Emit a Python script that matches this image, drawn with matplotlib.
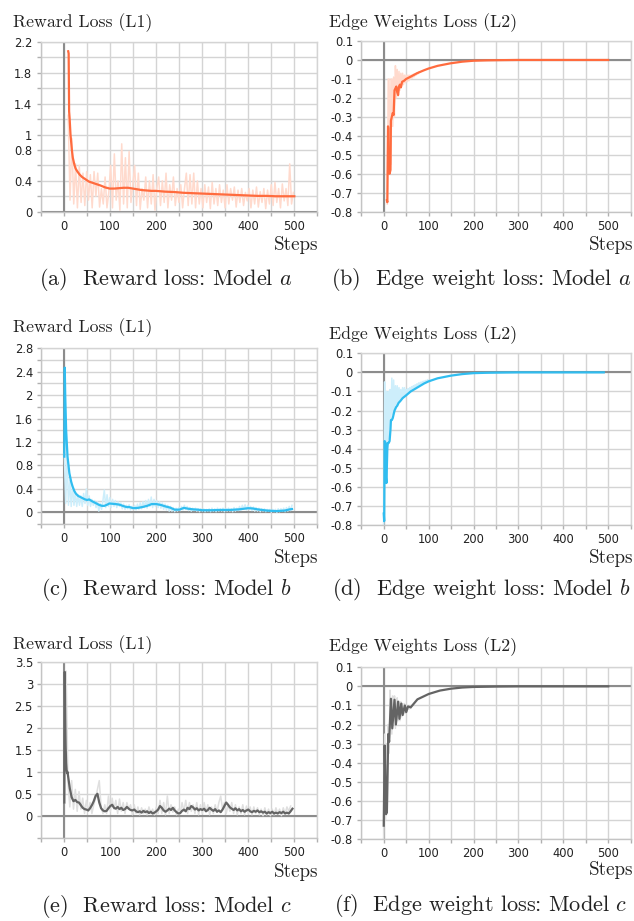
import numpy as np
import matplotlib
matplotlib.use("Agg")
import matplotlib.pyplot as plt

plt.rcParams["axes.unicode_minus"] = False
plt.rcParams["mathtext.fontset"] = "cm"

# ---------------- datos ----------------
# (a) reward loss, modelo a
a_steps = [10, 11, 12, 13, 15, 18, 20, 23, 26, 30, 35, 40, 45, 50, 55, 60, 70, 80, 90,
           100, 110, 120, 130, 140, 150, 160, 170, 180, 190, 200, 220, 240, 260, 280,
           300, 320, 340, 360, 380, 400, 420, 440, 460, 480, 500]
a_smooth = [2.08, 2.05, 1.30, 1.22, 1.00, 0.80, 0.70, 0.62, 0.56, 0.52, 0.48, 0.45, 0.43,
            0.41, 0.39, 0.38, 0.36, 0.34, 0.315, 0.30, 0.30, 0.305, 0.31, 0.31, 0.30, 0.29,
            0.28, 0.275, 0.27, 0.27, 0.26, 0.255, 0.245, 0.24, 0.235, 0.23, 0.225, 0.22,
            0.215, 0.21, 0.205, 0.205, 0.20, 0.20, 0.20]
a_raw = [1.25, 0.15, 0.95, 0.10, 0.62, 0.05, 0.60, 0.12, 0.50, 0.08, 0.52, 0.15, 0.48, 0.05,
         0.52, 0.20, 0.50, 0.06, 0.30, 0.10, 0.45, 0.05, 0.25, 0.60, 0.05, 0.75, 0.15, 0.40,
         0.02, 0.88, 0.10, 0.70, 0.05, 0.78, 0.12, 0.35, 0.60, 0.08, 0.50, 0.03, 0.30, 0.15,
         0.45, 0.05, 0.40, 0.10, 0.48, 0.02, 0.30, 0.45, 0.08, 0.40, 0.12, 0.50, 0.05, 0.35,
         0.15, 0.45, 0.08, 0.30, 0.12, 0.35, 0.05, 0.30, 0.50, 0.08, 0.48, 0.10, 0.50, 0.05,
         0.40, 0.10, 0.30, 0.05, 0.35, 0.12, 0.32, 0.04, 0.38, 0.10, 0.30, 0.08, 0.35, 0.12,
         0.28, 0.05, 0.35, 0.10, 0.30, 0.15, 0.32, 0.06, 0.28, 0.12, 0.30, 0.08, 0.25, 0.14,
         0.30, 0.05, 0.28, 0.10, 0.32, 0.06, 0.26, 0.12, 0.30, 0.04, 0.28, 0.10, 0.35, 0.08,
         0.38, 0.12, 0.30, 0.05, 0.36, 0.14, 0.30, 0.08, 0.62, 0.10, 0.25]

# (b) edge weights loss, modelo a
b_steps = [7, 8, 9.5, 10, 11, 13, 15, 16, 18, 20, 22, 24, 26, 28, 30, 32, 34, 36, 38, 41,
           45, 50, 60, 74, 90, 100, 120, 148, 175, 200, 230, 260, 300, 400, 500]
b_smooth = [-0.74, -0.75, -0.35, -0.36, -0.59, -0.60, -0.58, -0.32, -0.30, -0.28, -0.29,
            -0.16, -0.15, -0.14, -0.17, -0.185, -0.14, -0.13, -0.145, -0.115, -0.11, -0.10,
            -0.088, -0.07, -0.054, -0.045, -0.031, -0.018, -0.009, -0.004, -0.002, -0.001,
            0.0, 0.0, 0.0]
b_raw = [-0.76, -0.10, -0.60, -0.10, -0.55, -0.10, -0.35, -0.09, -0.30, -0.03, -0.20, -0.05,
         -0.19, -0.06, -0.16, -0.07, -0.14, -0.07, -0.13, -0.08, -0.12, -0.08, -0.115, -0.08,
         -0.11, -0.08, -0.10, -0.08, -0.095, -0.075, -0.088, -0.072, -0.08, -0.068, -0.074,
         -0.064]

# (c) reward loss, modelo b
c_steps = [0, 1, 2, 4, 7, 11, 15, 18, 22, 25, 30, 35, 40, 45, 50, 54, 60, 65, 70, 76,
           82, 87, 92, 98, 105, 112, 120, 127, 135, 141, 150, 160, 170, 180, 190, 200, 210,
           220, 230, 240, 250, 260, 270, 280, 290, 300, 320, 340, 360, 370, 380, 390, 400,
           410, 420, 430, 440, 450, 460, 470, 480, 490, 495]
c_smooth = [0.95, 2.47, 2.0, 1.40, 0.95, 0.67, 0.52, 0.44, 0.36, 0.32, 0.28, 0.26, 0.24,
            0.22, 0.21, 0.22, 0.19, 0.17, 0.15, 0.125, 0.11, 0.11, 0.125, 0.15, 0.145, 0.14,
            0.13, 0.11, 0.09, 0.09, 0.07, 0.075, 0.09, 0.11, 0.14, 0.14, 0.125, 0.10, 0.08,
            0.045, 0.045, 0.075, 0.06, 0.05, 0.045, 0.035, 0.035, 0.04, 0.04, 0.045, 0.05,
            0.06, 0.07, 0.065, 0.05, 0.04, 0.03, 0.025, 0.02, 0.025, 0.03, 0.05, 0.055]
c_raw = [1.00, 0.15, 1.00, 0.12, 0.55, 0.10, 0.45, 0.12, 0.35, 0.10, 0.30, 0.12, 0.28, 0.10,
         0.32, 0.15, 0.40, 0.12, 0.28, 0.10, 0.22, 0.12, 0.20, 0.08, 0.18, 0.02, 0.15, 0.05,
         0.20, 0.38, 0.08, 0.30, 0.10, 0.25, 0.08, 0.22, 0.10, 0.20, 0.08, 0.18, 0.10, 0.16,
         0.06, 0.14, 0.05, 0.12, 0.06, 0.13, 0.04, 0.10, 0.05, 0.12, 0.04, 0.14, 0.05, 0.16,
         0.06, 0.18, 0.08, 0.20, 0.07, 0.22, 0.10, 0.26, 0.08, 0.22, 0.10, 0.20, 0.08, 0.18,
         0.07, 0.16, 0.05, 0.14, 0.04, 0.12, 0.02, 0.10, 0.02, 0.08, 0.01, 0.07, 0.02, 0.08,
         0.03, 0.10, 0.04, 0.12, 0.05, 0.10, 0.03, 0.08, 0.02, 0.07, 0.03, 0.07, 0.02, 0.06,
         0.01, 0.06, 0.02, 0.06, 0.01, 0.05, 0.02, 0.06, 0.01, 0.07, 0.02, 0.06, 0.01, 0.07,
         0.02, 0.06, 0.02, 0.07, 0.01, 0.06, 0.02, 0.07, 0.02, 0.06, 0.01, 0.08, 0.02, 0.07,
         0.03, 0.10, 0.04, 0.12, 0.05, 0.13, 0.04, 0.12, 0.05, 0.10, 0.03, 0.09, 0.02, 0.08,
         0.02, 0.07, 0.01, 0.06, 0.02, 0.06, 0.01, 0.05, 0.02, 0.05, 0.00, 0.05, 0.01, 0.05,
         0.00, 0.06, 0.01, 0.06, 0.02, 0.07, 0.01, 0.08, 0.02, 0.10, 0.03, 0.12]

# (d) edge weights loss, modelo b
d_steps = [0, 1, 2, 4, 5, 6, 8, 9, 11, 13, 15, 16, 18, 20, 22, 24, 26, 28, 30, 33, 37,
           42, 50, 60, 75, 90, 100, 120, 150, 175, 200, 230, 260, 300, 400, 490]
d_smooth = [-0.74, -0.78, -0.36, -0.37, -0.55, -0.58, -0.40, -0.37, -0.37, -0.36, -0.30,
            -0.25, -0.25, -0.24, -0.22, -0.20, -0.19, -0.18, -0.175, -0.16, -0.15, -0.135,
            -0.12, -0.10, -0.079, -0.058, -0.047, -0.031, -0.017, -0.009, -0.004, -0.002,
            -0.001, 0.0, 0.0, 0.0]
d_raw = [-0.80, -0.05, -0.55, -0.10, -0.40, -0.10, -0.35, -0.09, -0.25, -0.03, -0.22, -0.04,
         -0.20, -0.07, -0.17, -0.07, -0.16, -0.08, -0.15, -0.09, -0.14, -0.08, -0.13, -0.08,
         -0.12, -0.09, -0.11, -0.085, -0.10, -0.08, -0.095, -0.075, -0.088, -0.07, -0.082,
         -0.065, -0.077, -0.06, -0.07, -0.055, -0.065, -0.052, -0.06, -0.048, -0.055, -0.045,
         -0.05, -0.042, -0.046, -0.038, -0.042]

# (e) reward loss, modelo c
e_head_steps = [0, 1, 2, 3, 4, 5, 6, 7]
e_head = [0.30, 3.28, 2.20, 1.57, 1.20, 1.04, 0.97, 1.00]
e_tail = [0.92, 0.62, 0.42, 0.33, 0.36, 0.31, 0.30, 0.24, 0.18, 0.15, 0.14, 0.12, 0.17, 0.24,
          0.33, 0.45, 0.50, 0.30, 0.17, 0.12, 0.10, 0.11, 0.17, 0.22, 0.25, 0.18, 0.16, 0.20,
          0.15, 0.18, 0.13, 0.15, 0.20, 0.16, 0.13, 0.12, 0.14, 0.10, 0.08, 0.10, 0.07, 0.11,
          0.08, 0.10, 0.06, 0.09, 0.05, 0.07, 0.10, 0.14, 0.22, 0.18, 0.12, 0.09, 0.12, 0.16,
          0.13, 0.18, 0.12, 0.08, 0.05, 0.06, 0.11, 0.14, 0.10, 0.18, 0.15, 0.22, 0.19, 0.14,
          0.17, 0.12, 0.15, 0.13, 0.16, 0.10, 0.13, 0.18, 0.14, 0.11, 0.15, 0.09, 0.12, 0.08,
          0.14, 0.22, 0.30, 0.25, 0.19, 0.16, 0.13, 0.17, 0.12, 0.15, 0.10, 0.13, 0.09, 0.12,
          0.14, 0.10, 0.08, 0.11, 0.09, 0.12, 0.08, 0.10, 0.07, 0.09, 0.05, 0.08, 0.06, 0.09,
          0.05, 0.07, 0.05, 0.08, 0.06, 0.09, 0.05, 0.07, 0.05, 0.10, 0.16]
e_raw = [0.30, 3.30, 0.75, 0.20, 0.80, 0.15, 0.60, 0.10, 0.55, 0.15, 0.40, 0.05, 0.35, 0.10,
         0.30, 0.05, 0.25, 0.40, 0.60, 0.80, 0.20, 0.05, 0.25, 0.05, 0.45, 0.10, 0.40, 0.15,
         0.35, 0.05, 0.38, 0.10, 0.30, 0.05, 0.30, 0.15, 0.25, 0.02, 0.25, 0.05, 0.20, 0.02,
         0.18, 0.05, 0.15, 0.02, 0.20, 0.05, 0.15, 0.02, 0.20, 0.05, 0.35, 0.05, 0.30, 0.02,
         0.45, 0.05, 0.25, 0.08, 0.20, 0.02, 0.15, 0.05, 0.30, 0.10, 0.35, 0.05, 0.30, 0.10,
         0.25, 0.05, 0.30, 0.02, 0.25, 0.05, 0.30, 0.10, 0.25, 0.02, 0.20, 0.05, 0.25, 0.08,
         0.30, 0.45, 0.15, 0.30, 0.05, 0.25, 0.10, 0.30, 0.05, 0.25, 0.02, 0.20, 0.05, 0.25,
         0.02, 0.22, 0.05, 0.20, 0.02, 0.20, 0.05, 0.18, 0.02, 0.15, 0.00, 0.18, 0.02, 0.15,
         0.00, 0.15, 0.02, 0.18, 0.05, 0.15, 0.00, 0.18, 0.05, 0.20, 0.10, 0.22]

# (f) edge weights loss, modelo c
f_steps = [0, 2, 5, 7, 10, 12, 16, 19, 24, 27, 32, 35, 39, 42, 47, 50, 54, 60, 75, 100,
           125, 150, 175, 200, 250, 300, 400, 500]
f_smooth = [-0.73, -0.31, -0.67, -0.66, -0.25, -0.29, -0.065, -0.22, -0.07, -0.20, -0.08,
            -0.17, -0.09, -0.15, -0.10, -0.135, -0.105, -0.11, -0.068, -0.04, -0.022, -0.012,
            -0.006, -0.003, -0.001, 0.0, 0.0, 0.0]
f_raw = [-0.80, -0.25, -0.70, -0.30, -0.60, -0.20, -0.35, -0.02, -0.10, -0.25, -0.05, -0.15,
         -0.05, -0.22, -0.10, -0.06, -0.18, -0.08, -0.18, -0.08, -0.16, -0.09, -0.15, -0.09,
         -0.14, -0.10, -0.13, -0.10, -0.12, -0.105, -0.115]

# ---------------- estilo ----------------
W, H = 634, 921
fig = plt.figure(figsize=(W / 100, H / 100), dpi=100)

GRID = "#d4d4d4"
AXE = "#8c8c8c"
SERIF = "cmr10"


def rect(l, t, r, b):
    return [l / W, 1 - b / H, (r - l) / W, (b - t) / H]


def texto(x, y, s, size, ha="left"):
    fig.text(x / W, 1 - y / H, s, fontsize=size, family=SERIF, ha=ha, va="baseline",
             color="#222222")


def panel(pos, ylim, ystep, ylabels, color, pale, smooth_x, smooth_y, raw_x, raw_y):
    ax = fig.add_axes(rect(*pos))
    ax.set_xlim(-50, 550)
    ax.set_ylim(*ylim)
    xt = np.arange(-50, 551, 50)
    ax.set_xticks(xt)
    ax.set_xticklabels([str(v) if v >= 0 and v % 100 == 0 and v <= 500 else "" for v in xt])
    yt = np.round(np.arange(ylim[0], ylim[1] + ystep / 2, ystep), 2)
    ax.set_yticks(yt)
    ax.set_yticklabels([ylabels.get(round(v, 2), "") for v in yt])
    ax.grid(True, color=GRID, lw=1)
    ax.set_axisbelow(True)
    for s in ax.spines.values():
        s.set_color(GRID)
        s.set_linewidth(1)
    ax.spines["left"].set_color("#c4c4c4")
    ax.spines["bottom"].set_color("#c4c4c4")
    ax.tick_params(length=3, width=1, color="#b0b0b0", labelsize=8.3, labelcolor="#222222",
                   pad=3)
    ax.axhline(0, color=AXE, lw=1.5, zorder=1)
    ax.axvline(0, color=AXE, lw=1.5, zorder=1)
    ax.plot(raw_x, raw_y, color=pale, lw=1.1, zorder=2)
    ax.plot(smooth_x, smooth_y, color=color, lw=1.6, zorder=3)
    for lab in ax.get_xticklabels() + ax.get_yticklabels():
        lab.set_family("DejaVu Sans")
    return ax


def lab_fmt(vals):
    return {round(v, 2): ("%g" % v) for v in vals}


ORANGE, ORANGE_P = "#ff6b3e", "#ffdacd"
BLUE, BLUE_P = "#30bdf0", "#cdeefb"
GRAY, GRAY_P = "#646464", "#dfdfdf"

edge_labels = lab_fmt([0.1, 0, -0.1, -0.2, -0.3, -0.4, -0.5, -0.6, -0.7, -0.8])

panel((40.5, 42, 317.4, 211.7), (0, 2.2), 0.2,
      lab_fmt([0, 0.4, 0.8, 1, 1.4, 1.8, 2.2]), ORANGE, ORANGE_P,
      a_steps, a_smooth, np.arange(len(a_raw)) * 4 + 10, a_raw)
panel((361.3, 41, 630.6, 211.7), (-0.8, 0.1), 0.1, edge_labels, ORANGE, ORANGE_P,
      b_steps, b_smooth, np.arange(len(b_raw)) * 2 + 8, b_raw)
panel((41.3, 348.3, 317.3, 524.0), (-0.2, 2.8), 0.2,
      lab_fmt([0, 0.4, 0.8, 1.2, 1.6, 2, 2.4, 2.8]), BLUE, BLUE_P,
      c_steps, c_smooth, np.arange(len(c_raw)) * 3, c_raw)
panel((361.3, 353.3, 630.7, 525), (-0.8, 0.1), 0.1, edge_labels, BLUE, BLUE_P,
      d_steps, d_smooth, np.arange(len(d_raw)) * 2, d_raw)
e_steps = list(e_head_steps) + list(np.arange(len(e_tail)) * 4 + 8)
panel((41.3, 662.3, 317.3, 837.6), (-0.5, 3.5), 0.5,
      lab_fmt([0, 0.5, 1, 1.5, 2, 2.5, 3, 3.5]), GRAY, GRAY_P,
      e_steps, e_head + e_tail, np.arange(len(e_raw)) * 4, e_raw)
panel((361.3, 667.3, 630.7, 839), (-0.8, 0.1), 0.1, edge_labels, GRAY, GRAY_P,
      f_steps, f_smooth, np.arange(len(f_raw)) * 2, f_raw)

# titulos, etiquetas y leyendas
TS, SS, CS = 12.8, 13.7, 16
texto(13, 27, "Reward Loss (L1)", TS)
texto(329, 27, "Edge Weights Loss (L2)", TS)
texto(13, 332, "Reward Loss (L1)", TS)
texto(329, 339, "Edge Weights Loss (L2)", TS)
texto(13, 649, "Reward Loss (L1)", TS)
texto(329, 651, "Edge Weights Loss (L2)", TS)

for x, y in [(318, 250), (633, 250), (318, 563), (633, 563), (318, 877), (633, 875)]:
    texto(x, y, "Steps", SS, ha="right")

texto(166, 285, "(a)  Reward loss: Model $a$", CS, ha="center")
texto(481, 285, "(b)  Edge weight loss: Model $a$", CS, ha="center")
texto(166, 595, "(c)  Reward loss: Model $b$", CS, ha="center")
texto(481, 595, "(d)  Edge weight loss: Model $b$", CS, ha="center")
texto(166, 912, "(e)  Reward loss: Model $c$", CS, ha="center")
texto(481, 911, "(f)  Edge weight loss: Model $c$", CS, ha="center")

fig.savefig("out.png", dpi=100)
